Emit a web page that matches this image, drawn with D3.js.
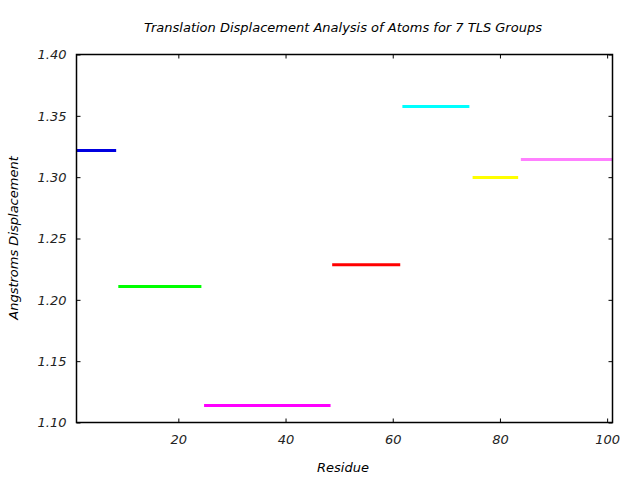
<!DOCTYPE html>
<html>
<head>
<meta charset="utf-8">
<script src="https://cdn.jsdelivr.net/npm/d3@7"></script>
<style>
  body { margin: 0; background: #fff; }
  text { font-family: "DejaVu Sans", sans-serif; font-style: italic; fill: #000; }
</style>
</head>
<body>
<script>
// TLS groups: residue range and displacement
var groupStart = [1, 8.8, 24.8, 48.7, 61.8, 74.9, 83.9];
var groupEnd = [8.4, 24.3, 48.4, 61.4, 74.3, 83.4, 101];
var displacement = [1.3217, 1.2109, 1.1139, 1.2286, 1.3576, 1.2997, 1.3144];
var groupColors = ["#0000e0", "#00ff00", "#ff00ff", "#ff0000", "#00ffff", "#ffff00", "#ff80ff"];
var xTicks = [20, 40, 60, 80, 100];
var yTicks = [1.10, 1.15, 1.20, 1.25, 1.30, 1.35, 1.40];

var margin = {top: 54.5, right: 27.5, bottom: 57.5, left: 76.5},
  width = 640 - margin.left - margin.right,
  height = 480 - margin.top - margin.bottom;

var svg = d3.select("body").append("svg")
  .attr("width", 640)
  .attr("height", 480);

var x = d3.scaleLinear().domain([1, 101]).range([0, width]);
var y = d3.scaleLinear().domain([1.10, 1.40]).range([height, 0]);

var g = svg.append("g")
  .attr("transform", `translate(${margin.left},${margin.top})`);

// segments
var data = displacement.map((v, i) => ({x0: groupStart[i], x1: groupEnd[i], v: v, c: groupColors[i]}));
g.selectAll("line.seg")
  .data(data)
  .enter()
  .append("line")
  .attr("class", "seg")
  .attr("x1", d => x(d.x0))
  .attr("x2", d => x(d.x1))
  .attr("y1", d => y(d.v))
  .attr("y2", d => y(d.v))
  .style("stroke", d => d.c)
  .style("stroke-width", 3);

// axes, ticks pointing inwards on all four sides
var tickLen = 4;
var axBottom = g.append("g").attr("transform", `translate(0,${height})`)
  .call(d3.axisBottom(x).tickValues(xTicks).tickSizeInner(-tickLen).tickSizeOuter(0).tickPadding(12));
var axTop = g.append("g")
  .call(d3.axisTop(x).tickValues(xTicks).tickSizeInner(-tickLen).tickSizeOuter(0).tickFormat(""));
var axLeft = g.append("g")
  .call(d3.axisLeft(y).tickValues(yTicks).tickSizeInner(-tickLen).tickSizeOuter(0).tickPadding(10).tickFormat(d3.format(".2f")));
var axRight = g.append("g").attr("transform", `translate(${width},0)`)
  .call(d3.axisRight(y).tickValues(yTicks).tickSizeInner(-tickLen).tickSizeOuter(0).tickFormat(""));

[axBottom, axTop, axLeft, axRight].forEach(a => {
  a.select(".domain").remove();
  a.selectAll("line").style("stroke", "#000");
  a.selectAll("text")
    .style("font-size", "13px")
    .style("font-family", "DejaVu Sans, sans-serif")
    .style("font-style", "italic")
    .style("fill", "#222");
});

// frame
g.append("rect")
  .attr("width", width)
  .attr("height", height)
  .style("fill", "none")
  .style("stroke", "#000")
  .style("stroke-width", 1.5);

// labels
svg.append("text")
  .attr("x", 343).attr("y", 32)
  .attr("text-anchor", "middle")
  .style("font-size", "13px")
  .text("Translation Displacement Analysis of Atoms for 7 TLS Groups");

svg.append("text")
  .attr("x", 343).attr("y", 472)
  .attr("text-anchor", "middle")
  .style("font-size", "13px")
  .text("Residue");

svg.append("text")
  .attr("transform", "translate(18,238) rotate(-90)")
  .attr("text-anchor", "middle")
  .style("font-size", "13px")
  .text("Angstroms Displacement");
</script>
</body>
</html>
